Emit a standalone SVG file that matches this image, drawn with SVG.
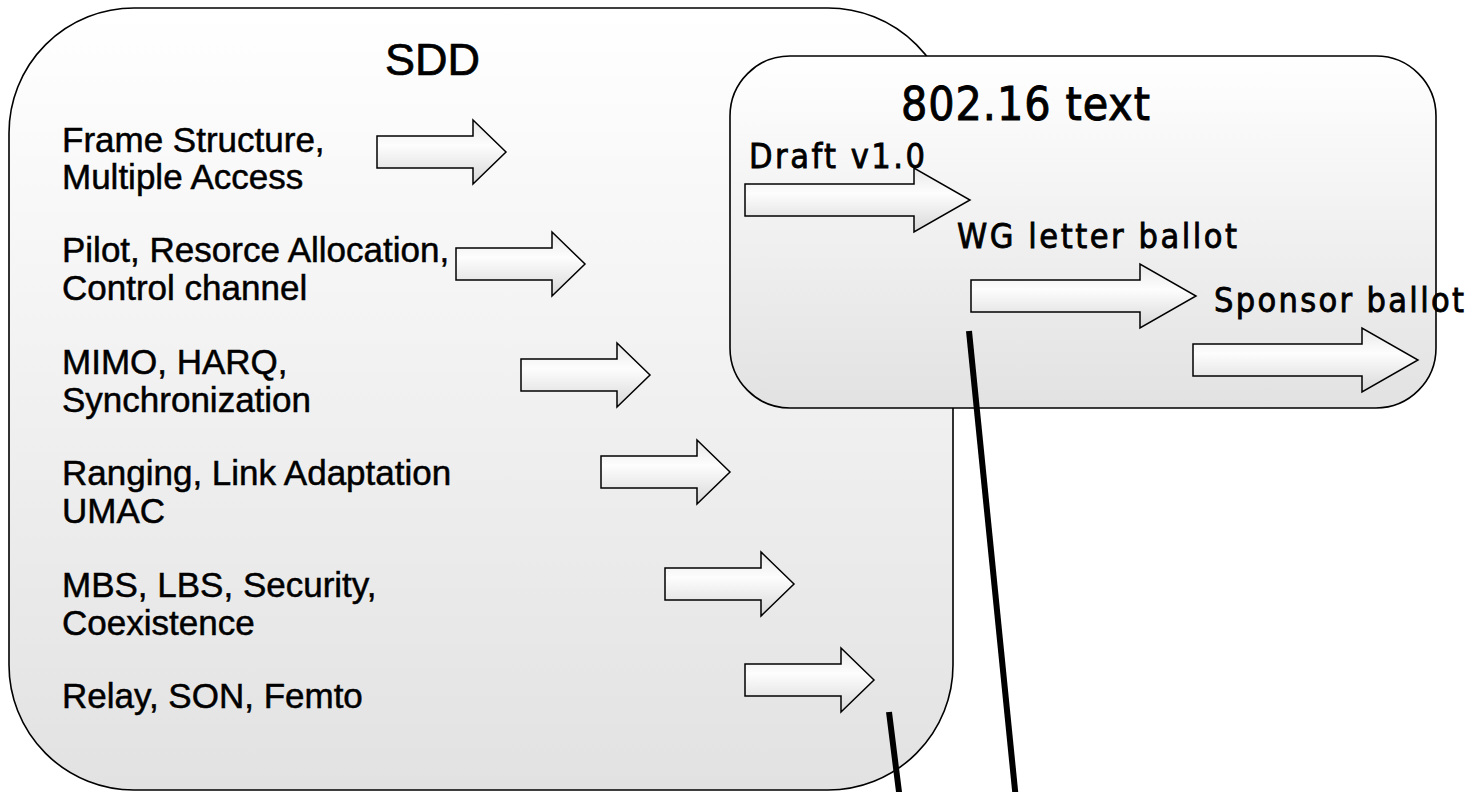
<svg xmlns="http://www.w3.org/2000/svg" width="1476" height="792" viewBox="0 0 1476 792">
  <defs>
    <linearGradient id="boxFill" x1="0" y1="0" x2="0" y2="1">
      <stop offset="0" stop-color="#ffffff"/>
      <stop offset="1" stop-color="#e2e2e2"/>
    </linearGradient>
    <linearGradient id="arrowFill" x1="0" y1="0" x2="0" y2="1">
      <stop offset="0" stop-color="#e9e9e9"/>
      <stop offset="0.4" stop-color="#fdfdfd"/>
      <stop offset="1" stop-color="#d8d8d8"/>
    </linearGradient>
    <!-- short block arrow: 129 long, origin at left middle -->
    <path id="arrowS" d="M0,-16 H96 V-32 L129,0 L96,32 V16 H0 Z"/>
    <!-- long block arrow: 225 long -->
    <path id="arrowL" d="M0,-16 H169 V-32 L225,0 L169,32 V16 H0 Z"/>
  </defs>
  <style>
    .box { fill: url(#boxFill); stroke: #000; stroke-width: 1.6; }
    .arrow { fill: url(#arrowFill); stroke: #000; stroke-width: 1.5; }
    .item { font-family: "Liberation Sans", Arial, sans-serif; font-size: 35px; fill: #000; stroke: #000; stroke-width: 0.5; }
    .title { font-family: "Liberation Sans", Arial, sans-serif; font-size: 45px; fill: #000; stroke: #000; stroke-width: 0.7; }
    .cond { font-family: "DejaVu Sans Condensed", "DejaVu Sans", sans-serif; font-stretch: condensed; font-size: 34px; fill: #000; stroke: #000; stroke-width: 0.8; }
    .cond-big { font-family: "DejaVu Sans Condensed", "DejaVu Sans", sans-serif; font-stretch: condensed; font-size: 46px; fill: #000; stroke: #000; stroke-width: 0.9; }
    .link { stroke: #000; stroke-width: 6; fill: none; }
  </style>

  <!-- SDD box with its topic list -->
  <g id="sdd">
    <rect class="box" x="9" y="8" width="944" height="782" rx="125" ry="125"/>
    <text class="title" x="385" y="75">SDD</text>
    <text class="item" x="62" y="152">Frame Structure,</text>
    <text class="item" x="62" y="189">Multiple Access</text>
    <text class="item" x="62" y="262">Pilot, Resorce Allocation,</text>
    <text class="item" x="62" y="300">Control channel</text>
    <text class="item" x="62" y="374">MIMO, HARQ,</text>
    <text class="item" x="62" y="412">Synchronization</text>
    <text class="item" x="62" y="485">Ranging, Link Adaptation</text>
    <text class="item" x="62" y="523">UMAC</text>
    <text class="item" x="62" y="597">MBS, LBS, Security,</text>
    <text class="item" x="62" y="635">Coexistence</text>
    <text class="item" x="62" y="708">Relay, SON, Femto</text>
    <use href="#arrowS" class="arrow" x="377" y="152"/>
    <use href="#arrowS" class="arrow" x="456" y="264"/>
    <use href="#arrowS" class="arrow" x="521" y="375"/>
    <use href="#arrowS" class="arrow" x="601" y="472"/>
    <use href="#arrowS" class="arrow" x="665" y="584"/>
    <use href="#arrowS" class="arrow" x="745" y="680"/>
  </g>

  <!-- 802.16 text box with ballot stages -->
  <g id="text80216">
    <rect class="box" x="730" y="56" width="706" height="352" rx="60" ry="60"/>
    <use href="#arrowL" class="arrow" x="745" y="200"/>
    <use href="#arrowL" class="arrow" x="971" y="296"/>
    <use href="#arrowL" class="arrow" x="1193" y="360"/>
    <text class="cond-big" x="901" y="120" textLength="249" lengthAdjust="spacing">802.16 text</text>
    <text class="cond" x="749" y="168" textLength="176" lengthAdjust="spacing">Draft v1.0</text>
    <text class="cond" x="957" y="248" textLength="280" lengthAdjust="spacing">WG letter ballot</text>
    <text class="cond" x="1214" y="312" textLength="250" lengthAdjust="spacing">Sponsor ballot</text>
  </g>

  <!-- heavy lines running off the bottom edge -->
  <g id="connectors">
    <line class="link" x1="969" y1="331" x2="1016" y2="800"/>
    <line class="link" x1="889" y1="712" x2="900" y2="800"/>
  </g>
</svg>
